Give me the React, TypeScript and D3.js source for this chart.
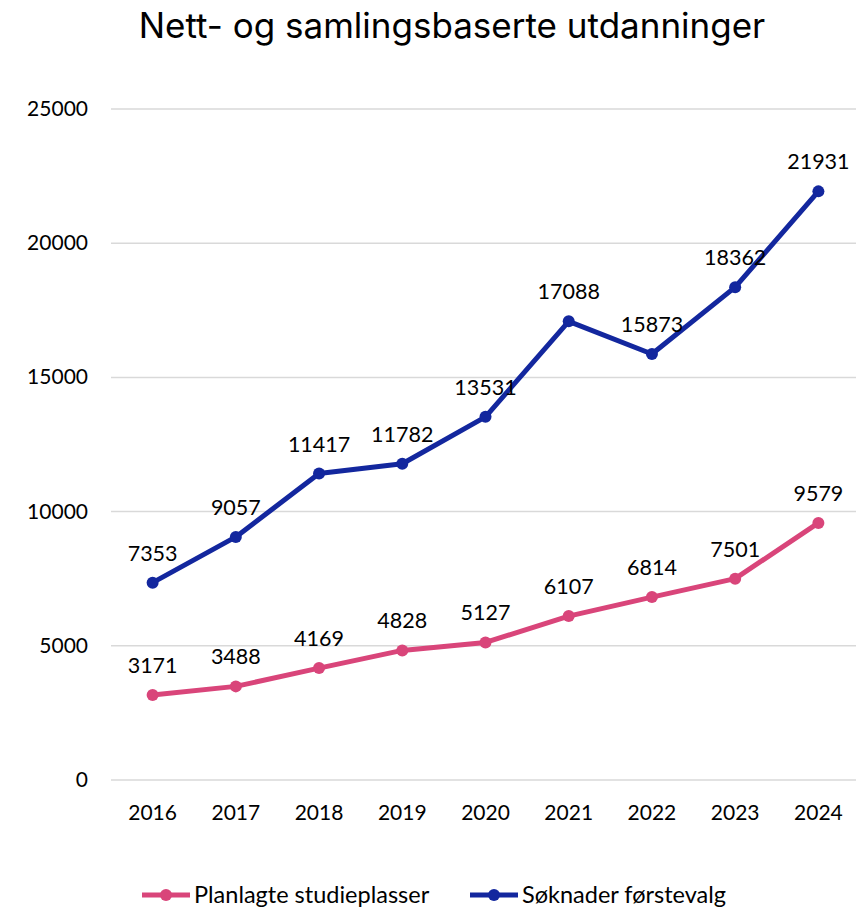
import React from "react";
import * as d3 from "d3";

const years = ["2016", "2017", "2018", "2019", "2020", "2021", "2022", "2023", "2024"];
const planlagte = [3171, 3488, 4169, 4828, 5127, 6107, 6814, 7501, 9579];
const soknader = [7353, 9057, 11417, 11782, 13531, 17088, 15873, 18362, 21931];
const yTicks = [0, 5000, 10000, 15000, 20000, 25000];
const seriesNames = ["Planlagte studieplasser", "Søknader førstevalg"];

const W = 856;
const H = 909;
const PINK = "#d9457a";
const BLUE = "#13279e";
const FONT = "Lato, 'Open Sans', sans-serif";

export default function App() {
  const x = d3.scalePoint<string>().domain(years).range([111, 860]).padding(0.5);
  const y = d3.scaleLinear().domain([0, 25000]).range([780, 109]);
  const line = d3
    .line<number>()
    .x((_, i) => x(years[i]) as number)
    .y((d) => y(d));

  const series = [
    { name: seriesNames[0], values: planlagte, color: PINK },
    { name: seriesNames[1], values: soknader, color: BLUE },
  ];

  const legend = [
    { name: seriesNames[0], color: PINK, x0: 142 },
    { name: seriesNames[1], color: BLUE, x0: 470 },
  ];

  return (
    <svg
      width={W}
      height={H}
      style={{ position: "absolute", left: 0, top: 0, background: "#fff" }}
      fontFamily={FONT}
    >
      <text x={452} y={38} textAnchor="middle" fontSize={35} fontWeight={400} fontFamily="Inter, Lato, sans-serif" fill="#000">
        Nett- og samlingsbaserte utdanninger
      </text>
      {yTicks.map((t) => (
        <g key={t}>
          <line x1={111} x2={W} y1={y(t)} y2={y(t)} stroke="#d9d9d9" strokeWidth={1.5} />
          <text x={88} y={y(t) + 7} textAnchor="end" fontSize={21} fill="#000">
            {t}
          </text>
        </g>
      ))}
      {years.map((yr) => (
        <text key={yr} x={x(yr)} y={820} textAnchor="middle" fontSize={21} fill="#000">
          {yr}
        </text>
      ))}
      {series.map((s) => (
        <g key={s.name}>
          <path d={line(s.values) || ""} fill="none" stroke={s.color} strokeWidth={5} strokeLinejoin="round" />
          {s.values.map((v, i) => (
            <circle key={i} cx={x(years[i])} cy={y(v)} r={6} fill={s.color} />
          ))}
          {s.values.map((v, i) => (
            <text key={"l" + i} x={x(years[i])} y={y(v) - 22} textAnchor="middle" fontSize={21.5} fill="#000">
              {v}
            </text>
          ))}
        </g>
      ))}
      {legend.map((l) => (
        <g key={l.name}>
          <line x1={l.x0} x2={l.x0 + 48} y1={895} y2={895} stroke={l.color} strokeWidth={5} />
          <circle cx={l.x0 + 24} cy={895} r={6} fill={l.color} />
          <text x={l.x0 + 52} y={903} fontSize={23.5} fill="#000">
            {l.name}
          </text>
        </g>
      ))}
    </svg>
  );
}
